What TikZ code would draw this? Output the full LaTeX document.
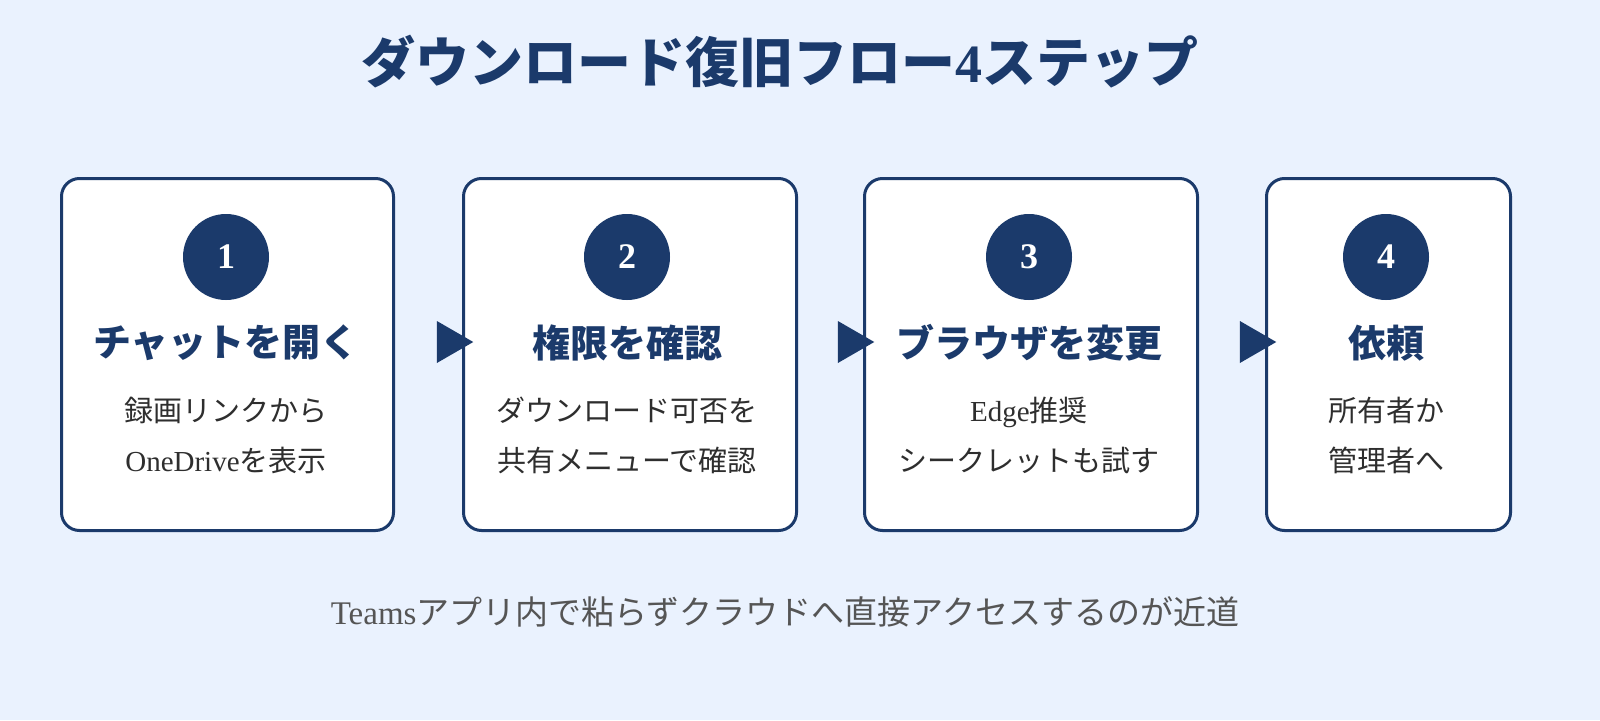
\documentclass[tikz,border=0pt]{standalone}
\usepackage{fontspec}
\setmainfont{Liberation Serif}
\newfontfamily\jp{Noto Sans CJK JP}
\usetikzlibrary{shapes.geometric}
\definecolor{navy}{HTML}{1B3A6B}
\definecolor{bg}{HTML}{EAF2FE}
\definecolor{txt}{HTML}{2E2E2E}
\definecolor{foot}{HTML}{555555}
\begin{document}
\begin{tikzpicture}[x=1pt,y=-1pt,
  box/.style={draw=navy,line width=3pt,fill=white,rounded corners=18pt,anchor=north west,inner sep=0pt},
  num/.style={circle,fill=navy,minimum size=86pt,inner sep=0pt,text=white,font=\fontsize{36}{36}\selectfont\bfseries},
  head/.style={text=navy,font=\jp\fontsize{38}{38}\selectfont\bfseries},
  body/.style={text=txt,align=center,font=\jp\fontsize{29}{50}\selectfont},
  tri/.style={isosceles triangle,isosceles triangle apex angle=60,fill=navy,inner sep=0pt,minimum height=26pt,minimum width=42pt}]
\fill[bg] (0,0) rectangle (1600,720);
\useasboundingbox (0,0) rectangle (1600,720);
\node[text=navy,font=\jp\fontsize{54}{54}\selectfont\bfseries] (title) at (780,62) {ダウンロード復旧フロー{\rmfamily 4}ステップ};
\node[box,minimum width=332pt,minimum height=352pt] (b1) at (60,177) {};
\node[box,minimum width=333pt,minimum height=352pt] (b2) at (462,177) {};
\node[box,minimum width=333pt,minimum height=352pt] (b3) at (863,177) {};
\node[box,minimum width=244pt,minimum height=352pt] (b4) at (1265,177) {};
\node[num] (n1) at (226,257) {1};
\node[num] (n2) at (627,257) {2};
\node[num] (n3) at (1029,257) {3};
\node[num] (n4) at (1386,257) {4};
\node[head] (h1) at (226,343) {チャットを開く};
\node[head] (h2) at (627,343) {権限を確認};
\node[head] (h3) at (1029,343) {ブラウザを変更};
\node[head] (h4) at (1386,343) {依頼};
\node[body] (t1) at (226,435) {録画リンクから\\{\rmfamily OneDrive}を表示};
\node[body] (t2) at (627,435) {ダウンロード可否を\\共有メニューで確認};
\node[body] (t3) at (1029,435) {{\rmfamily Edge}推奨\\シークレットも試す};
\node[body] (t4) at (1386,435) {所有者か\\管理者へ};
\node[tri] (a1) at (449,342) {};
\node[tri] (a2) at (850,342) {};
\node[tri] (a3) at (1252,342) {};
\node[text=foot,font=\jp\fontsize{33}{33}\selectfont] (f) at (785,612) {{\rmfamily Teams}アプリ内で粘らずクラウドへ直接アクセスするのが近道};
\end{tikzpicture}
\end{document}
